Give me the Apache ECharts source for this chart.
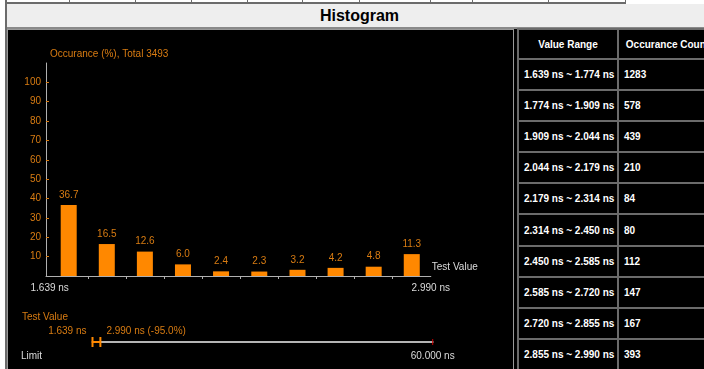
<!DOCTYPE html>
<html>
<head>
<meta charset="utf-8">
<script src="https://cdn.jsdelivr.net/npm/echarts@6/dist/echarts.min.js"></script>
<style>
  html, body { margin: 0; padding: 0; background: #fff; width: 704px; height: 369px; overflow: hidden;
    font-family: Arial, "Liberation Sans", sans-serif; }
  #topRow { position: absolute; left: 5px; top: 0; width: 621px; height: 2px; border-bottom: 2px solid #6b6b6b; }
  .sep { position: absolute; top: 0; width: 1px; height: 3px; background: #6b6b6b; }
  #leftEdge { position: absolute; left: 5px; top: 0; width: 2px; height: 369px; background: #6b6b6b; }
  #band { position: absolute; left: 7px; top: 4px; width: 705px; height: 23px; background: #eeeeee;
    border-bottom: 2px solid #8a8a8a; font-weight: bold; font-size: 16px; line-height: 24px; text-align: center; color: #000; }
  #under { position: absolute; left: 7px; top: 29px; width: 697px; height: 340px; background: #000; }
  #panel { position: absolute; left: 7px; top: 29px; width: 505px; height: 345px; border: 1px solid #9a9a9a; background: #000; }
  #chart { width: 505px; height: 339px; }
  #table { position: absolute; left: 517px; top: 28px; padding: 2px; background: #6b6b6b; display: grid;
    grid-template-columns: 98px 97px; grid-template-rows: 28px; grid-auto-rows: 29.1px; gap: 2px; }
  .cell { background: #000; color: #fff; font-weight: bold; font-size: 10px; display: flex; align-items: center;
    padding: 0 5px; white-space: nowrap; overflow: hidden; }
  .head { justify-content: center; }
</style>
</head>
<body>
<div id="topRow"></div>
<div id="leftEdge"></div>
<div id="band">Histogram</div>
<div id="under"></div>
<div id="panel"><div id="chart"></div></div>
<div id="table"></div>
<script>
var binEdges = [1.639, 1.774, 1.909, 2.044, 2.179, 2.314, 2.450, 2.585, 2.720, 2.855, 2.990];
var counts = [1283, 578, 439, 210, 84, 80, 112, 147, 167, 393];
var percents = [36.7, 16.5, 12.6, 6.0, 2.4, 2.3, 3.2, 4.2, 4.8, 11.3];
var yTicks = [10, 20, 30, 40, 50, 60, 70, 80, 90, 100];
var testRange = [1.639, 2.990];
var limitValue = 60;

var ORANGE = '#d97c12';
var BAR = '#ff8800';
var LIGHT = '#dcdcdc';
var FONT = 'Arial, "Liberation Sans", sans-serif';

// leftover row of the page table above
var topSeps = [69, 135, 191, 247, 302, 359, 430, 472, 548, 625];
topSeps.forEach(function (x) {
  var d = document.createElement('div');
  d.className = 'sep';
  d.style.left = x + 'px';
  document.body.appendChild(d);
});

// value range table
var table = document.getElementById('table');
function addCell(text, cls) {
  var c = document.createElement('div');
  c.className = 'cell' + (cls ? ' ' + cls : '');
  c.textContent = text;
  table.appendChild(c);
}
addCell('Value Range', 'head');
addCell('Occurance Count', 'head');
for (var i = 0; i < counts.length; i++) {
  addCell(binEdges[i].toFixed(3) + ' ns ~ ' + binEdges[i + 1].toFixed(3) + ' ns');
  addCell(String(counts[i]));
}

var total = counts.reduce(function (a, b) { return a + b; }, 0);
var barData = percents.map(function (p, i) {
  return [(binEdges[i] + binEdges[i + 1]) / 2, p];
});
var first = binEdges[0];
var last = binEdges[binEdges.length - 1];
var pctOfLimit = ((testRange[1] - limitValue) / limitValue * 100).toFixed(1);

function ns(v) { return v.toFixed(3) + ' ns'; }

var chart = echarts.init(document.getElementById('chart'));

var option = {
  backgroundColor: '#000',
  animation: false,
  textStyle: { fontFamily: FONT },
  grid: [
    { left: 38, right: 82.2, top: 33, bottom: 93 },
    { left: 84.5, right: 80.3, top: 302, bottom: 27 }
  ],
  xAxis: [
    {
      type: 'value', gridIndex: 0, min: 1.626, max: last,
      name: 'Test Value', nameLocation: 'end', nameGap: 1,
      nameTextStyle: { color: LIGHT, fontSize: 10, align: 'left', verticalAlign: 'bottom', padding: [0, 0, 4, 0] },
      axisLine: { lineStyle: { color: '#b0b0b0', width: 1 } },
      axisTick: { show: true, length: 3, customValues: binEdges.slice(1, -1), lineStyle: { color: '#b0b0b0' } },
      axisLabel: { customValues: [first, last], formatter: ns, color: LIGHT, fontSize: 10, margin: 7,
        showMinLabel: true, showMaxLabel: true },
      splitLine: { show: false }
    },
    {
      type: 'value', gridIndex: 1, min: testRange[0], max: limitValue,
      axisLine: { lineStyle: { color: '#b4b4b4', width: 2 } },
      axisTick: { show: false },
      axisLabel: { customValues: [limitValue], formatter: ns, color: LIGHT, fontSize: 10, margin: 9,
        showMaxLabel: true },
      splitLine: { show: false }
    }
  ],
  yAxis: [
    {
      type: 'value', gridIndex: 0, min: 0, max: 110,
      name: 'Occurance (%), Total ' + total, nameLocation: 'end', nameGap: 9,
      nameTextStyle: { color: ORANGE, fontSize: 10, align: 'left', verticalAlign: 'middle', padding: [0, 0, 0, 4] },
      axisLine: { show: true, lineStyle: { color: '#b0b0b0', width: 1 } },
      axisTick: { show: true, inside: true, length: 3, customValues: yTicks, lineStyle: { color: ORANGE } },
      axisLabel: { customValues: yTicks, color: ORANGE, fontSize: 10, margin: 5 },
      splitLine: { show: false }
    },
    { type: 'value', gridIndex: 1, min: 0, max: 1, show: false }
  ],
  graphic: [
    { type: 'text', left: 14, top: 282, style: { text: 'Test Value', fill: ORANGE, fontSize: 10, fontFamily: FONT } },
    { type: 'text', left: 13, top: 321, style: { text: 'Limit', fill: LIGHT, fontSize: 10, fontFamily: FONT } }
  ],
  series: [
    {
      type: 'bar', xAxisIndex: 0, yAxisIndex: 0, data: barData, barWidth: 16,
      itemStyle: { color: BAR },
      label: { show: true, position: 'top', distance: 5, color: ORANGE, fontSize: 10,
        formatter: function (p) { return p.value[1].toFixed(1); } }
    },
    {
      type: 'custom', xAxisIndex: 1, yAxisIndex: 1,
      encode: { x: [0, 1], y: 2 },
      data: [[testRange[0], testRange[1], 0]],
      renderItem: function (params, api) {
        var a = api.coord([api.value(0), 0]);
        var b = api.coord([api.value(1), 0]);
        var st = { stroke: BAR, lineWidth: 2 };
        return {
          type: 'group',
          children: [
            { type: 'line', shape: { x1: a[0], y1: a[1], x2: b[0], y2: b[1] }, style: st },
            { type: 'line', shape: { x1: a[0], y1: a[1] - 5, x2: a[0], y2: a[1] + 5 }, style: st },
            { type: 'line', shape: { x1: b[0], y1: b[1] - 5, x2: b[0], y2: b[1] + 5 }, style: st },
            { type: 'text', style: { text: ns(api.value(0)), x: a[0] - 6, y: a[1] - 11, align: 'right',
              verticalAlign: 'middle', fill: ORANGE, fontSize: 10, fontFamily: FONT } },
            { type: 'text', style: { text: ns(api.value(1)) + ' (' + pctOfLimit + '%)', x: b[0] + 6, y: b[1] - 11,
              align: 'left', verticalAlign: 'middle', fill: ORANGE, fontSize: 10, fontFamily: FONT } }
          ]
        };
      }
    },
    {
      type: 'custom', xAxisIndex: 1, yAxisIndex: 1,
      data: [[limitValue, 0]],
      renderItem: function (params, api) {
        var p = api.coord([api.value(0), 0]);
        return { type: 'line', shape: { x1: p[0], y1: p[1] - 3, x2: p[0], y2: p[1] + 3 },
          style: { stroke: '#cc0000', lineWidth: 1 } };
      }
    }
  ]
};

chart.setOption(option);
</script>
</body>
</html>
